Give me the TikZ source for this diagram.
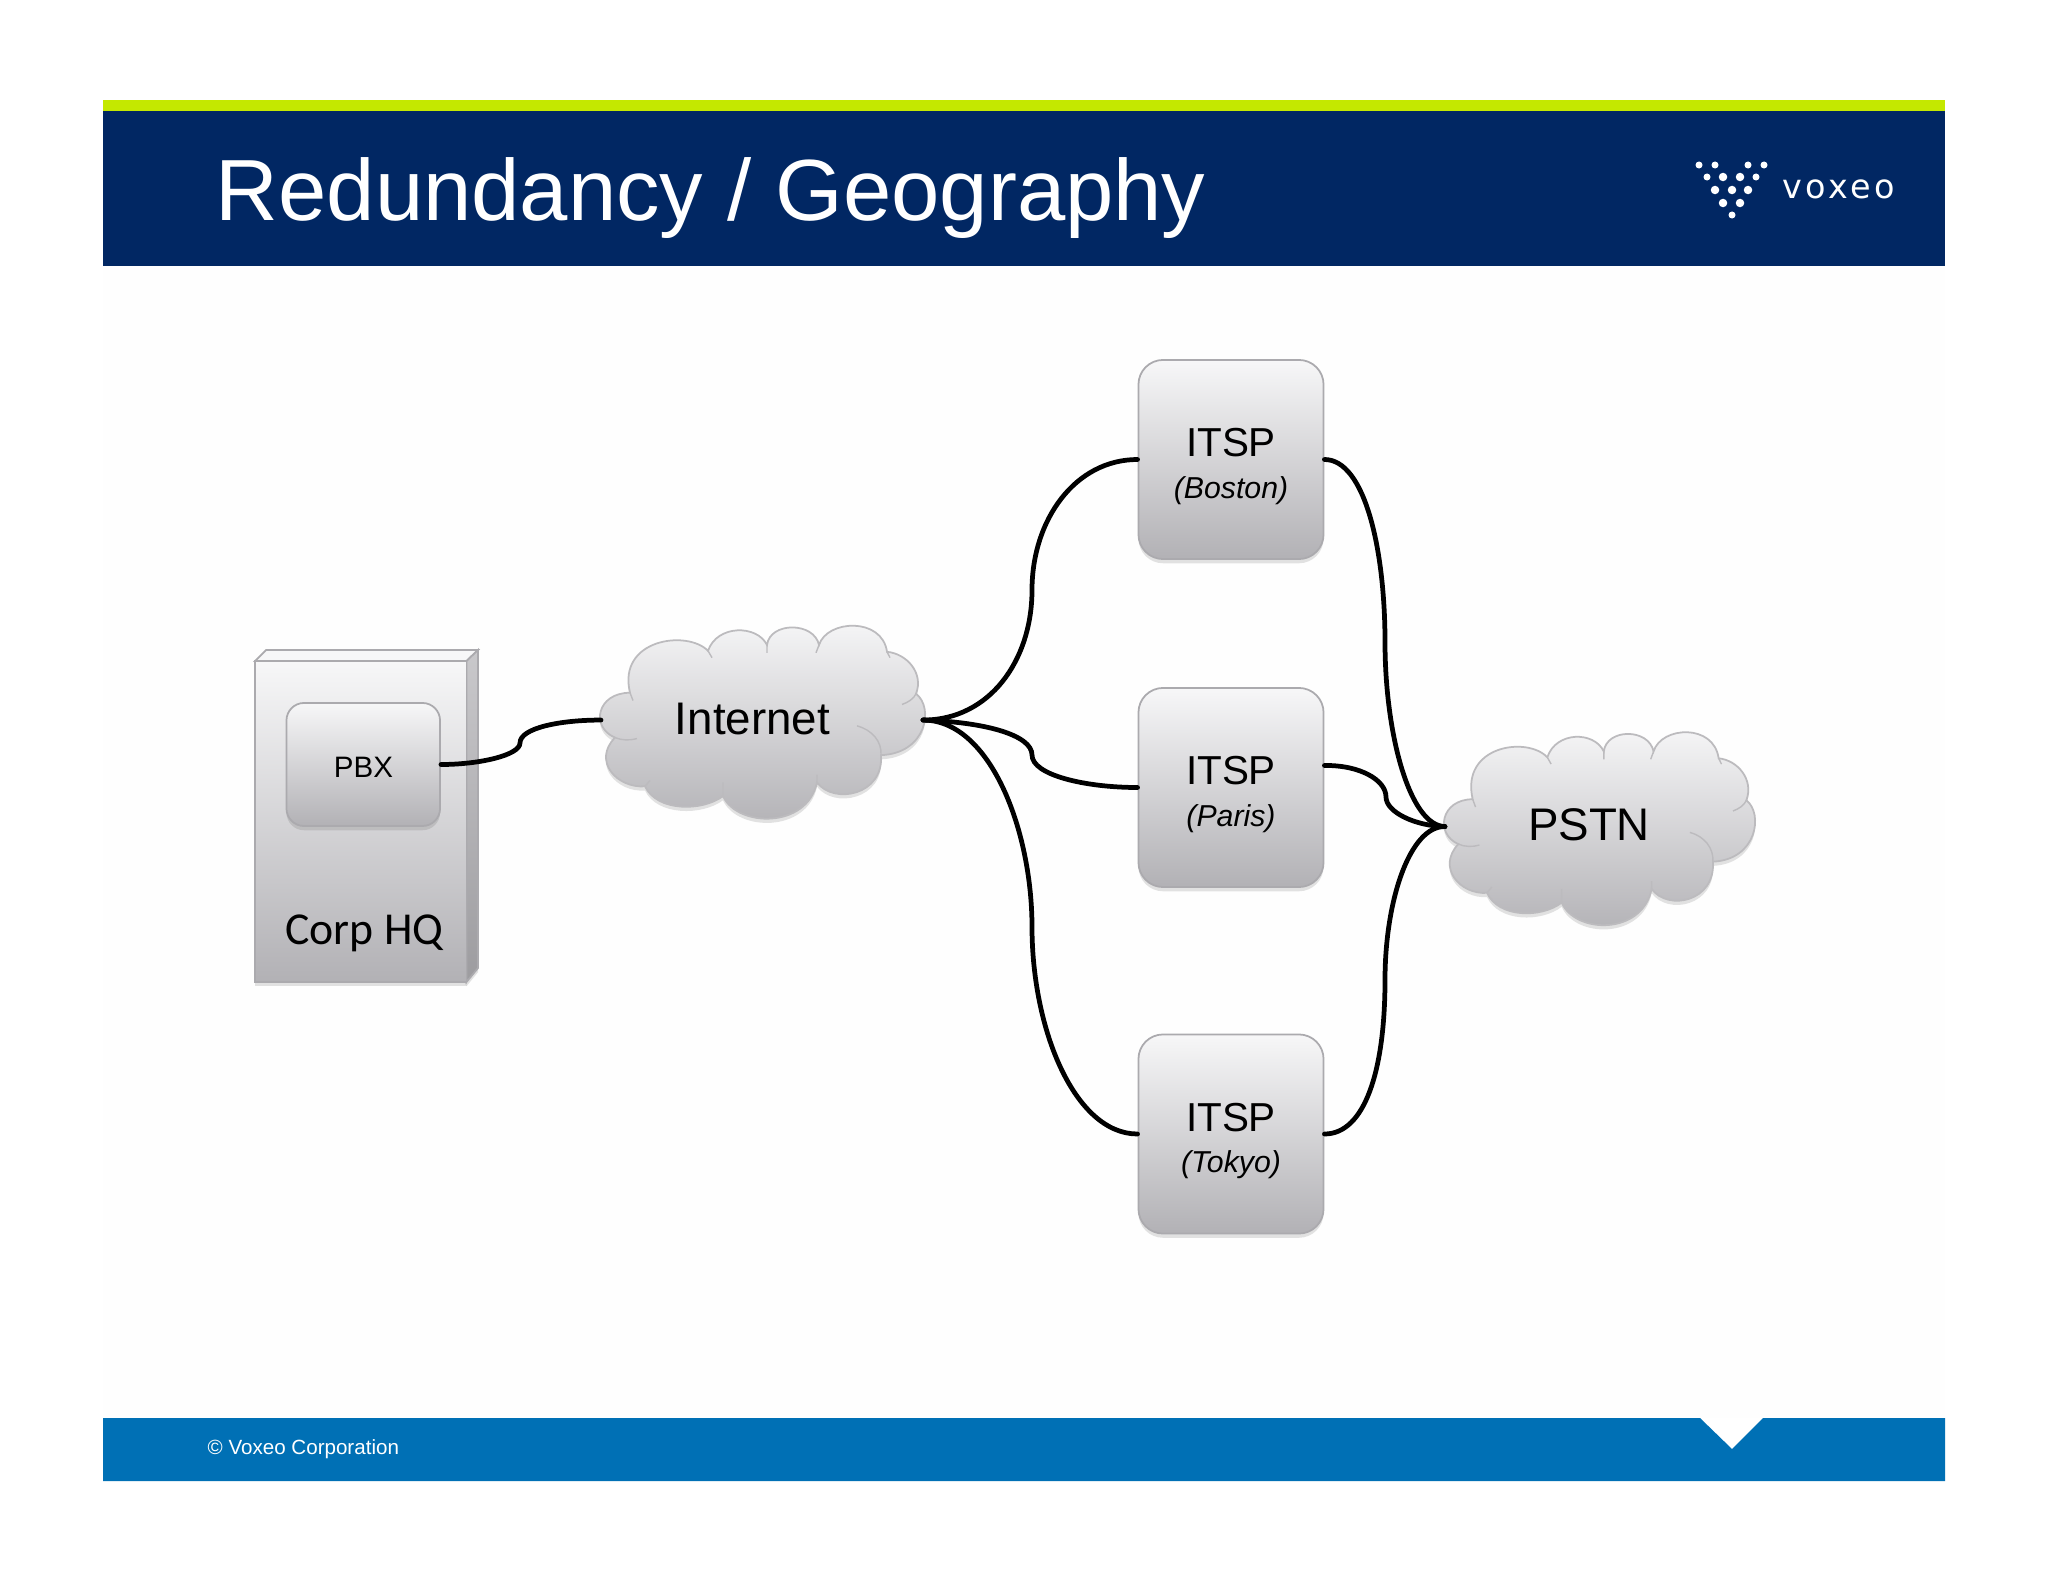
\documentclass[tikz,border=0pt]{standalone}
\usepackage{fontspec}
\usetikzlibrary{shadows}
\setmainfont{Liberation Sans}
\newfontfamily\hqfont{Carlito}
\newfontfamily\logofont[LetterSpace=10]{DejaVu Sans}

\definecolor{barnavy}{HTML}{012763}
\definecolor{barlime}{HTML}{C4E800}
\definecolor{barblue}{HTML}{0070B5}
\definecolor{slidebg}{HTML}{FEFEFE}
\definecolor{edgegray}{HTML}{ABAAAE}
\definecolor{boxtop}{HTML}{F7F7F8}
\definecolor{boxbottom}{HTML}{B2B1B5}

\tikzset{
  softshadow/.style={drop shadow={shadow xshift=0pt, shadow yshift=-1.2pt, opacity=.16, fill=black!70}},
  metalbox/.style={draw=edgegray, line width=.5pt, top color=boxtop, bottom color=boxbottom, softshadow},
  itspbox/.style={metalbox, rounded corners=7pt, inner sep=0pt, minimum width=1.85cm, minimum height=1.99cm},
  link/.style={line width=1.35pt, black, line cap=round},
  dotsmall/.style={circle, fill=white, inner sep=0pt, minimum size=.07cm},
  dotlarge/.style={circle, fill=white, inner sep=0pt, minimum size=.085cm},
  pics/netcloud/.style={code={
    \path[metalbox, draw=edgegray!80] (-132,-30)
      .. controls (-145,-85) and (-75,-95) .. (-54,-73)
      .. controls (-45,-100) and (-5,-100) .. (5,-79)
      .. controls (8,-103) and (52,-103) .. (57,-79)
      .. controls (65,-105) and (120,-108) .. (125,-72)
      .. controls (145,-70) and (162,-50) .. (154,-29)
      .. controls (172,-15) and (165,32) .. (119,34)
      .. controls (122,75) and (72,85) .. (55,62)
      .. controls (45,110) and (-25,108) .. (-39,76)
      .. controls (-60,92) and (-105,92) .. (-117,66)
      .. controls (-145,68) and (-170,40) .. (-147,16)
      .. controls (-172,5) and (-165,-30) .. (-132,-30) -- cycle;
    % the little inner arcs of the puffs
    \draw[edgegray!80, line width=.4pt]
      (-132,-30) -- (-129,-22)
      (-54,-73) -- (-50,-66)
      (5,-79) -- (5,-71)
      (57,-79) -- (54,-71)
      (125,-72) -- (128,-66)
      (154,-29) .. controls (152,-24) and (146,-20) .. (140,-18)
      (95,4) .. controls (110,8) and (120,20) .. (119,34)
      (-39,76) -- (-39,62)
      (55,62) -- (55,54)
      (-117,66) -- (-112,60)
      (-147,16) .. controls (-140,19) and (-132,19) .. (-125,17);
    \coordinate (-west) at (-161,-2);
    \coordinate (-east) at (161,-2);
  }}
}

\begin{document}
\begin{tikzpicture}[x=0.01cm, y=-0.01cm]
  % slide and its bars
  \useasboundingbox (0,0) rectangle (2048,1582);
  \fill[white] (0,0) rectangle (2048,1582);
  \fill[slidebg] (103,266) rectangle (1945,1418);
  \fill[barlime] (103,100) rectangle (1945,111);
  \fill[barnavy] (103,111) rectangle (1945,266);
  \fill[barblue] (103,1418) -- (1700,1418) -- (1732,1449) -- (1763,1418)
    -- (1945,1418) -- (1945,1481) -- (103,1481) -- cycle;

  \node[anchor=base west, white, inner sep=0pt, font=\fontsize{24.7}{28}\selectfont] (title) at (215,220.5) {Redundancy / Geography};
  \node[anchor=base west, white, inner sep=0pt, font=\fontsize{5.85}{7}\selectfont] (copyright) at (207,1454) {© Voxeo Corporation};

  % logo
  \foreach \x/\y in {1699/165, 1715/165, 1748/165, 1764/165, 1707/177, 1756/177, 1732/215}
    \node[dotsmall] at (\x,\y) {};
  \foreach \x/\y in {1723/177, 1740/177, 1715/190, 1732/190, 1748/190, 1723/203, 1740/203}
    \node[dotlarge] at (\x,\y) {};
  \node[white, inner sep=0pt, font=\logofont\fontsize{9.5}{10}\selectfont] (logotext) at (1838.5,189.5) {voxeo};

  % corp building
  \fill[boxtop, draw=edgegray, line width=.5pt] (255,661) -- (266,650) -- (478,650) -- (466.5,661) -- cycle;
  \path[draw=edgegray, line width=.5pt, top color=boxbottom!70, bottom color=boxbottom!88!black, softshadow]
    (466.5,661) -- (478,650) -- (478,968) -- (466.5,982) -- cycle;
  \node[metalbox, inner sep=0pt, minimum width=2.115cm, minimum height=3.21cm] (corp) at (360.75,821.5) {};
  \node[metalbox, rounded corners=5pt, inner sep=0pt, minimum width=1.535cm, minimum height=1.23cm] (pbx) at (363.25,764.5) {};
  \node[inner sep=0pt, font=\fontsize{8.4}{10}\selectfont] (pbxlabel) at (363.5,767.5) {PBX};
  \node[inner sep=0pt, font=\hqfont\fontsize{13}{15}\selectfont] (corplabel) at (364.5,933) {Corp HQ};

  % clouds
  \pic[transform shape, yscale=.975] (internet) at (762,722) {netcloud};
  \node[inner sep=0pt, font=\fontsize{13}{15}\selectfont] (internetlabel) at (752.5,719) {Internet};
  \pic[transform shape, xscale=.957, yscale=.975] (pstn) at (1599,828.5) {netcloud};
  \node[inner sep=0pt, font=\fontsize{13}{15}\selectfont] (pstnlabel) at (1589,825) {PSTN};

  % the three providers
  \foreach \name/\city/\ypos in {boston/Boston/459.5, paris/Paris/787.5, tokyo/Tokyo/1134} {
    \node[itspbox] (\name) at (1231,\ypos) {};
    \node[align=center, inner sep=0pt, font=\fontsize{11.5}{11.5}\selectfont] (\name label) at ([yshift=-.07cm]\name.center)
      {ITSP\\[.4pt]{\fontsize{8.6}{10}\selectfont\itshape (\city)}};
  }
  \coordinate (parisout) at ([yshift=.22cm]paris.east);

  % links
  \draw[link] (pbx.east) .. controls (480,764.5) and (520,755) .. (520,743)
    .. controls (520,728) and (560,720) .. (internet-west);
  \draw[link] (internet-east) .. controls (990,720) and (1032,660) .. (1032,590)
    .. controls (1032,520) and (1075,459.5) .. (boston.west);
  \draw[link] (internet-east) .. controls (985,722) and (1032,735) .. (1032,755)
    .. controls (1032,775) and (1085,787.5) .. (paris.west);
  \draw[link] (internet-east) .. controls (990,720) and (1032,830) .. (1032,927)
    .. controls (1032,1030) and (1075,1134) .. (tokyo.west);
  \draw[link] (boston.east) .. controls (1365,459.5) and (1385,550) .. (1385,642)
    .. controls (1385,735) and (1410,826) .. (pstn-west);
  \draw[link] (parisout) .. controls (1360,765) and (1386,780) .. (1386,797)
    .. controls (1386,812) and (1415,826) .. (pstn-west);
  \draw[link] (tokyo.east) .. controls (1365,1134) and (1385,1070) .. (1385,980)
    .. controls (1385,900) and (1410,826) .. (pstn-west);
\end{tikzpicture}
\end{document}
